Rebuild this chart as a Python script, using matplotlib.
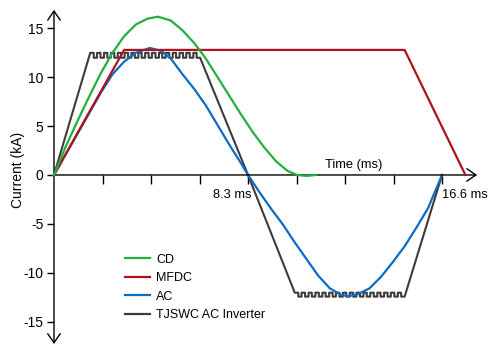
import matplotlib.pyplot as plt
from matplotlib.lines import Line2D

plt.rcParams['font.family'] = ['Liberation Sans', 'DejaVu Sans']
plt.rcParams['axes.unicode_minus'] = False

# CD (capacitor discharge)
cd_t = [0, 0.5, 1.0, 1.5, 2.0, 2.5, 3.0, 3.5, 4.0, 4.45, 5.0, 5.5, 6.0, 6.5,
        7.0, 7.5, 8.0, 8.5, 9.0, 9.5, 10.0, 10.4, 10.8, 11.2]
cd_i = [0, 2.9, 5.5, 8.0, 10.4, 12.5, 14.2, 15.4, 16.0, 16.2, 15.8, 14.8, 13.5, 11.9,
        10.0, 8.1, 6.2, 4.4, 2.8, 1.4, 0.4, 0.0, -0.1, 0.0]

# MFDC
mfdc_t = [0, 3.0, 15.0, 17.6]
mfdc_i = [0, 12.8, 12.8, 0]

# AC
ac_t = [0, 0.5, 1.0, 1.5, 2.0, 2.5, 3.0, 3.5, 4.1, 4.6, 5.0, 5.5, 6.0, 6.5, 7.0, 7.5,
        8.0, 8.3, 8.8, 9.3, 9.8, 10.3, 10.8, 11.3, 11.8, 12.3, 12.6, 13.0, 13.5,
        14.0, 14.5, 15.0, 15.5, 16.0, 16.6]
ac_i = [0, 2.1, 4.2, 6.3, 8.4, 10.3, 11.6, 12.5, 13.0, 12.7, 11.9, 10.3, 8.8, 7.1, 5.1, 3.1,
        1.2, 0, -1.8, -3.5, -5.1, -6.9, -8.6, -10.3, -11.6, -12.3, -12.4, -12.2, -11.6,
        -10.4, -8.9, -7.3, -5.4, -3.4, 0]

# TJSWC AC inverter: ramps + rippled plateaus
tj_pos_edges = [1.55, 1.70, 1.84, 1.99, 2.14, 2.28, 2.43, 2.58, 2.73, 2.87, 3.02, 3.17,
                3.31, 3.46, 3.61, 3.75, 3.90, 4.05, 4.19, 4.34, 4.49, 4.63, 4.78, 4.93,
                5.08, 5.22, 5.37, 5.52, 5.66, 5.81, 5.96, 6.10, 6.25]
tj_pos_levels = [12.5, 12.0] * 16
tj_neg_edges = [10.30, 10.45, 10.59, 10.74, 10.89, 11.03, 11.18, 11.33, 11.48, 11.62,
                11.77, 11.92, 12.06, 12.21, 12.36, 12.50, 12.65, 12.80, 12.94, 13.09,
                13.24, 13.38, 13.53, 13.68, 13.83, 13.97, 14.12, 14.27, 14.41, 14.56,
                14.71, 14.85, 15.00]
tj_neg_levels = [-12.05, -12.45] * 16
tj_zeros = [0, 8.3, 16.6]

x_ticks = [2.075, 4.15, 6.225, 8.3, 10.375, 12.45, 14.525, 16.6]
y_ticks = [-15, -10, -5, 0, 5, 10, 15]

# build TJSWC path
tj_t = [tj_zeros[0]]
tj_i = [0]
for k, lev in enumerate(tj_pos_levels):
    tj_t += [tj_pos_edges[k], tj_pos_edges[k + 1]]
    tj_i += [lev, lev]
tj_t.append(tj_zeros[1])
tj_i.append(0)
for k, lev in enumerate(tj_neg_levels):
    tj_t += [tj_neg_edges[k], tj_neg_edges[k + 1]]
    tj_i += [lev, lev]
tj_t.append(tj_zeros[2])
tj_i.append(0)

fig = plt.figure(figsize=(5.0, 3.52), dpi=100)
fig.patch.set_edgecolor('#808080')
fig.patch.set_linewidth(3)
ax = fig.add_axes([0, 0, 1, 1])
ax.set_xlim(-2.31, 19.08)
ax.set_ylim(-18.12, 17.91)

c_cd = '#22b03c'
c_mf = '#b0121b'
c_ac = '#0b6cc4'
c_tj = '#3c3c3c'

ax.plot(tj_t, tj_i, color=c_tj, lw=1.5, zorder=2)
ax.plot(ac_t, ac_i, color=c_ac, lw=1.6, zorder=3)
ax.plot(mfdc_t, mfdc_i, color=c_mf, lw=1.6, zorder=4)
ax.plot(cd_t, cd_i, color=c_cd, lw=1.6, zorder=5)

for s in ['top', 'right']:
    ax.spines[s].set_visible(False)
ax.spines['left'].set_position(('data', 0))
ax.spines['bottom'].set_position(('data', 0))
ax.spines['left'].set_color('none')
ax.spines['bottom'].set_color('none')

ax.annotate('', xy=(0, 16.9), xytext=(0, -17.3),
            arrowprops=dict(arrowstyle='<->,head_length=0.65,head_width=0.45',
                            lw=1.0, color='black', shrinkA=0, shrinkB=0))
ax.annotate('', xy=(18.1, 0), xytext=(0, 0),
            arrowprops=dict(arrowstyle='->,head_length=0.65,head_width=0.45',
                            lw=1.0, color='black', shrinkA=0, shrinkB=0))

ax.set_xticks(x_ticks)
ax.set_xticklabels([''] * len(x_ticks))
ax.set_yticks(y_ticks)
ax.set_yticklabels([str(v) for v in y_ticks])
ax.tick_params(axis='x', direction='out', length=6.5, width=1.0)
ax.tick_params(axis='y', direction='out', length=4.8, width=1.0, pad=2.7, labelsize=10)

ax.text(8.45, -2.05, '8.3 ms', ha='right', va='center', fontsize=9.3)
ax.text(16.6, -2.05, '16.6 ms', ha='left', va='center', fontsize=9.3)
ax.text(12.84, 0.99, 'Time (ms)', ha='center', va='center', fontsize=9.3)
fig.text(18 / 500, 1 - 170 / 352, 'Current (kA)', rotation=90, ha='center', va='center', fontsize=10)

handles = [Line2D([], [], color=c, lw=1.6) for c in [c_cd, c_mf, c_ac, c_tj]]
labels = ['CD', 'MFDC', 'AC', 'TJSWC AC Inverter']
fig.legend(handles, labels, loc='upper left', bbox_to_anchor=(0.25, 0.279),
           frameon=False, fontsize=9, handlelength=2.0, handletextpad=0.5,
           labelspacing=0.52, borderpad=0, borderaxespad=0)

fig.savefig('out.png', dpi=100)
